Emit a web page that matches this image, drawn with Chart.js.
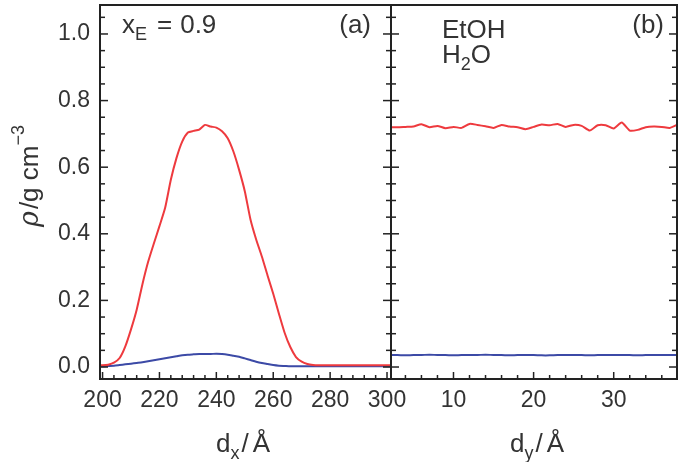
<!DOCTYPE html>
<html>
<head>
<meta charset="utf-8">
<script src="https://cdn.jsdelivr.net/npm/chart.js@4.4.0/dist/chart.umd.min.js"></script>
<style>
  html, body { margin: 0; padding: 0; background: #fff; }
  #wrap { position: relative; width: 686px; height: 462px; }
  #wrap canvas { position: absolute; left: 0; top: 0; }
</style>
</head>
<body>
<div id="wrap">
  <canvas id="leftChart" width="686" height="462"></canvas>
  <canvas id="rightChart" width="686" height="462"></canvas>
</div>
<script>
// panel (a): profile across the slab (x_E = 0.9)
const dxValues = [198, 200, 202, 204, 206, 208, 210, 212, 214, 216, 218, 220, 222, 224, 226, 228, 230, 232,
  234, 236, 238, 240, 242, 244, 246, 248, 250, 252, 254, 256, 258, 260, 262, 264, 266, 268, 270, 272,
  274, 276, 278, 280, 282, 284, 286, 288, 290, 292, 294, 296, 298, 300, 302];
const etohAlongX = [0.005, 0.005, 0.007, 0.013, 0.027, 0.062, 0.113, 0.172, 0.248, 0.315, 0.370, 0.423, 0.478,
  0.562, 0.628, 0.677, 0.704, 0.709, 0.713, 0.727, 0.722, 0.719, 0.708, 0.687, 0.647, 0.592, 0.528, 0.443,
  0.383, 0.332, 0.275, 0.220, 0.160, 0.103, 0.060, 0.030, 0.016, 0.009, 0.006, 0.005, 0.005, 0.005, 0.005,
  0.005, 0.005, 0.005, 0.005, 0.005, 0.005, 0.005, 0.005, 0.005, 0.005];
const waterAlongX = [0.002, 0.002, 0.003, 0.004, 0.006, 0.008, 0.010, 0.012, 0.014, 0.017, 0.020, 0.023, 0.026,
  0.029, 0.032, 0.035, 0.037, 0.038, 0.039, 0.039, 0.039, 0.040, 0.039, 0.037, 0.034, 0.031, 0.026, 0.021,
  0.016, 0.012, 0.009, 0.006, 0.004, 0.003, 0.002, 0.002, 0.002, 0.002, 0.002, 0.002, 0.002, 0.002, 0.002,
  0.002, 0.002, 0.002, 0.002, 0.002, 0.002, 0.002, 0.002, 0.002, 0.002];

// panel (b): profile along y
const dyValues = [2, 3, 4, 5, 6, 7, 8, 9, 10, 11, 12, 13, 14, 15, 16, 17, 18, 19, 20, 21, 22, 23, 24, 25,
  26, 27, 28, 29, 30, 31, 32, 33, 34, 35, 36, 37, 38];
const etohAlongY = [0.720, 0.720, 0.721, 0.722, 0.729, 0.720, 0.724, 0.717, 0.721, 0.718, 0.730, 0.727, 0.723,
  0.718, 0.727, 0.722, 0.720, 0.714, 0.721, 0.728, 0.726, 0.730, 0.721, 0.727, 0.724, 0.710, 0.726, 0.726,
  0.716, 0.734, 0.710, 0.712, 0.720, 0.722, 0.721, 0.718, 0.728];
const waterAlongY = [0.036, 0.036, 0.035, 0.036, 0.036, 0.037, 0.036, 0.036, 0.035, 0.036, 0.036, 0.036, 0.037,
  0.036, 0.036, 0.035, 0.036, 0.036, 0.036, 0.035, 0.035, 0.036, 0.036, 0.036, 0.036, 0.035, 0.036, 0.036,
  0.036, 0.036, 0.036, 0.035, 0.036, 0.036, 0.036, 0.036, 0.036];

const rhoTicks = [0, 0.2, 0.4, 0.6, 0.8, 1.0];
const dxTicks = [200, 220, 240, 260, 280, 300];
const dyTicks = [10, 20, 30];

const RED = '#ee3a3e';
const BLUE = '#3c4aa6';
const INK = '#333';
const FONT = '"Liberation Sans", Arial, sans-serif';

const toPoints = (xs, ys) => xs.map((x, i) => ({ x, y: ys[i] }));

// parts: [text, kind]; a number is a gap in px
function drawRich(ctx, x, y, parts, align) {
  const fontFor = (kind) => {
    if (kind === 'sub' || kind === 'sup') return `18px ${FONT}`;
    if (kind === 'it') return `italic 27px "DejaVu Serif", serif`;
    return `26px ${FONT}`;
  };
  let total = 0;
  const widths = parts.map((p) => {
    if (typeof p === 'number') { total += p; return p; }
    ctx.font = fontFor(p[1]);
    const w = ctx.measureText(p[0]).width;
    total += w;
    return w;
  });
  if (align === 'center') x -= total / 2;
  if (align === 'right') x -= total;
  ctx.textAlign = 'left';
  ctx.textBaseline = 'alphabetic';
  parts.forEach((p, i) => {
    if (typeof p !== 'number') {
      const [t, kind] = p;
      ctx.font = fontFor(kind);
      const dy = kind === 'sub' ? 7 : kind === 'sup' ? -14 : 0;
      ctx.fillText(t, x, y + dy);
    }
    x += widths[i];
  });
}

// frame plus inward ticks, like the original plot
const frameTicks = {
  id: 'frameTicks',
  afterDatasetsDraw(chart, args, opts) {
    const { ctx, chartArea: a, scales } = chart;
    const line = (x1, y1, x2, y2) => {
      ctx.beginPath();
      ctx.moveTo(x1, y1);
      ctx.lineTo(x2, y2);
      ctx.stroke();
    };
    ctx.save();
    ctx.strokeStyle = '#222';
    ctx.lineWidth = 1.5;
    const eps = 1e-6;
    for (let v = Math.ceil(scales.x.min / opts.xMinor) * opts.xMinor; v <= scales.x.max; v += opts.xMinor) {
      const major = Math.abs(v / opts.xMajor - Math.round(v / opts.xMajor)) < eps;
      const px = scales.x.getPixelForValue(v);
      line(px, a.bottom, px, a.bottom - (major ? 7 : 4));
    }
    for (let k = Math.ceil(scales.y.min / 0.05); k * 0.05 <= scales.y.max; k++) {
      const major = k % 4 === 0;
      const py = scales.y.getPixelForValue(k * 0.05);
      const len = major ? 8 : 5;
      line(a.left, py, a.left + len, py);
      line(a.right, py, a.right - len, py);
    }
    ctx.lineWidth = 2;
    ctx.strokeRect(a.left, a.top, a.width, a.height);
    ctx.restore();
  },
};

const labelsLeft = {
  id: 'labelsLeft',
  afterDraw(chart) {
    const { ctx } = chart;
    ctx.save();
    ctx.fillStyle = INK;
    drawRich(ctx, 122, 33, [['x'], ['E', 'sub'], 10, ['='], 8, ['0.9']], 'left');
    drawRich(ctx, 371, 33, [['(a)']], 'right');
    drawRich(ctx, 243, 452, [['d'], ['x', 'sub'], 2, ['/'], 4, ['Å']], 'center');
    ctx.translate(38, 176);
    ctx.rotate(-Math.PI / 2);
    drawRich(ctx, 0, 0, [['ρ', 'it'], 2, ['/g cm'], ['−3', 'sup']], 'center');
    ctx.restore();
  },
};

const labelsRight = {
  id: 'labelsRight',
  afterDraw(chart) {
    const { ctx } = chart;
    ctx.save();
    ctx.fillStyle = INK;
    drawRich(ctx, 664, 33, [['(b)']], 'right');
    drawRich(ctx, 442, 38, [['EtOH']], 'left');
    drawRich(ctx, 442, 63, [['H'], ['2', 'sub'], ['O']], 'left');
    drawRich(ctx, 537, 452, [['d'], ['y', 'sub'], 2, ['/'], 4, ['Å']], 'center');
    ctx.restore();
  },
};

function lineSet(points, color) {
  return {
    data: points,
    borderColor: color,
    borderWidth: 2,
    pointRadius: 0,
    tension: 0.2,
    fill: false,
  };
}

function panelOptions(cfg) {
  return {
    responsive: false,
    animation: false,
    events: [],
    layout: { padding: cfg.padding },
    plugins: {
      legend: { display: false },
      tooltip: { enabled: false },
      frameTicks: cfg.ticks,
    },
    scales: {
      x: {
        type: 'linear',
        min: cfg.xMin,
        max: cfg.xMax,
        grid: { display: false, drawTicks: false },
        border: { display: false },
        afterBuildTicks: (scale) => { scale.ticks = cfg.xTicks.map((v) => ({ value: v })); },
        afterFit: (scale) => {
          scale.height = 83;
          scale.paddingLeft = 0;
          scale.paddingRight = 0;
        },
        ticks: { color: INK, font: { size: 23, family: FONT }, padding: 8, maxRotation: 0, autoSkip: false },
      },
      y: {
        type: 'linear',
        min: -0.036,
        max: 1.087,
        grid: { display: false, drawTicks: false },
        border: { display: false },
        afterBuildTicks: (scale) => { scale.ticks = rhoTicks.map((v) => ({ value: v })); },
        afterFit: (scale) => {
          scale.width = cfg.yWidth;
          scale.paddingTop = 0;
          scale.paddingBottom = 0;
        },
        ticks: {
          display: cfg.yLabels,
          color: INK,
          font: { size: 23, family: FONT },
          padding: 10,
          callback: (v) => v.toFixed(1),
        },
      },
    },
  };
}

new Chart(document.getElementById('leftChart'), {
  type: 'line',
  data: {
    datasets: [
      lineSet(toPoints(dxValues, etohAlongX), RED),
      lineSet(toPoints(dxValues, waterAlongX), BLUE),
    ],
  },
  options: panelOptions({
    padding: { left: 0, top: 5, right: 295, bottom: 0 },
    xMin: 199.1,
    xMax: 301.4,
    xTicks: dxTicks,
    yWidth: 100,
    yLabels: true,
    ticks: { xMajor: 20, xMinor: 4 },
  }),
  plugins: [frameTicks, labelsLeft],
});

new Chart(document.getElementById('rightChart'), {
  type: 'line',
  data: {
    datasets: [
      lineSet(toPoints(dyValues, etohAlongY), RED),
      lineSet(toPoints(dyValues, waterAlongY), BLUE),
    ],
  },
  options: panelOptions({
    padding: { left: 0, top: 5, right: 9, bottom: 0 },
    xMin: 2.2,
    xMax: 37.9,
    xTicks: dyTicks,
    yWidth: 391,
    yLabels: false,
    ticks: { xMajor: 10, xMinor: 2 },
  }),
  plugins: [frameTicks, labelsRight],
});
</script>
</body>
</html>
